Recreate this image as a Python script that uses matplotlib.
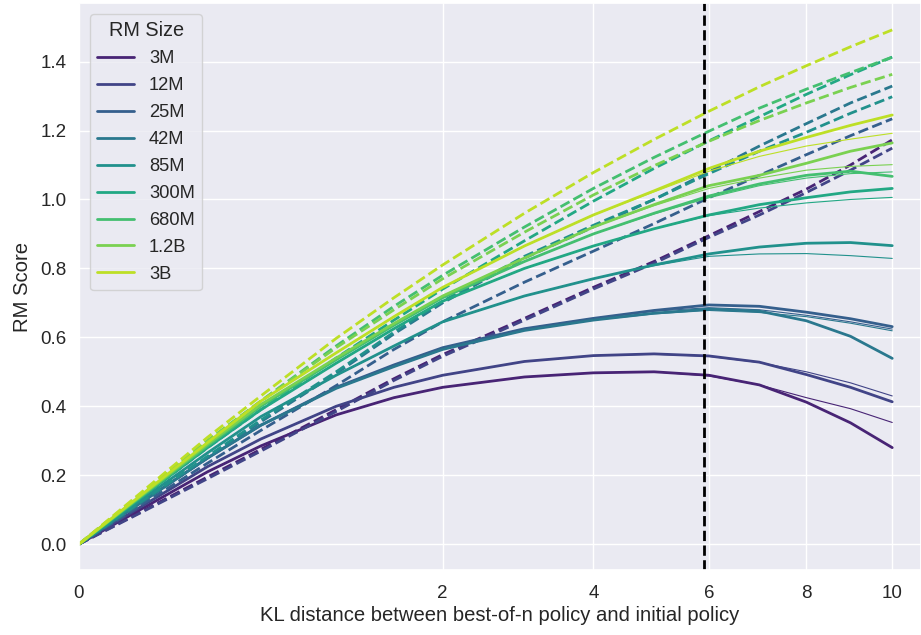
import numpy as np
import matplotlib
matplotlib.use("Agg")
import matplotlib.pyplot as plt
import seaborn as sns

# KL values at which scores were sampled
kl = [0, 0.25, 0.5, 1, 1.5, 2, 3, 4, 5, 6, 7, 8, 9, 10]

rm_sizes = ["3M", "12M", "25M", "42M", "85M", "300M", "680M", "1.2B", "3B"]

# proxy RM score (dashed)
proxy_3m = [0, 0.195, 0.275, 0.39, 0.48, 0.55, 0.655, 0.745, 0.82, 0.895, 0.965, 1.03, 1.10, 1.173]
proxy_12m = [0, 0.19, 0.27, 0.385, 0.475, 0.545, 0.65, 0.74, 0.815, 0.89, 0.955, 1.02, 1.085, 1.149]
proxy_25m = [0, 0.235, 0.33, 0.46, 0.565, 0.645, 0.76, 0.85, 0.93, 1.005, 1.07, 1.13, 1.185, 1.234]
proxy_42m = [0, 0.25, 0.355, 0.495, 0.61, 0.70, 0.83, 0.92, 1.0, 1.08, 1.155, 1.22, 1.28, 1.329]
proxy_85m = [0, 0.255, 0.36, 0.50, 0.615, 0.705, 0.835, 0.925, 1.0, 1.075, 1.14, 1.195, 1.25, 1.298]
proxy_300m = [0, 0.28, 0.39, 0.54, 0.65, 0.74, 0.88, 0.995, 1.09, 1.17, 1.24, 1.305, 1.362, 1.413]
proxy_680m = [0, 0.30, 0.415, 0.575, 0.69, 0.78, 0.92, 1.032, 1.122, 1.198, 1.265, 1.32, 1.368, 1.413]
proxy_1_2b = [0, 0.30, 0.415, 0.57, 0.68, 0.77, 0.905, 1.013, 1.098, 1.169, 1.229, 1.28, 1.325, 1.363]
proxy_3b = [0, 0.31, 0.43, 0.597, 0.715, 0.81, 0.96, 1.078, 1.174, 1.256, 1.327, 1.388, 1.443, 1.492]

# gold RM score (thick solid)
gold_3m = [0, 0.21, 0.285, 0.375, 0.425, 0.455, 0.485, 0.497, 0.50, 0.49, 0.462, 0.412, 0.352, 0.280]
gold_12m = [0, 0.225, 0.305, 0.40, 0.455, 0.49, 0.53, 0.547, 0.552, 0.546, 0.528, 0.492, 0.455, 0.413]
gold_25m = [0, 0.25, 0.345, 0.455, 0.52, 0.57, 0.625, 0.655, 0.678, 0.694, 0.69, 0.673, 0.654, 0.631]
gold_42m = [0, 0.25, 0.345, 0.452, 0.515, 0.565, 0.62, 0.65, 0.67, 0.682, 0.676, 0.648, 0.603, 0.539]
gold_85m = [0, 0.265, 0.37, 0.49, 0.575, 0.645, 0.72, 0.77, 0.81, 0.842, 0.862, 0.873, 0.875, 0.866]
gold_300m = [0, 0.28, 0.39, 0.525, 0.625, 0.705, 0.80, 0.865, 0.915, 0.955, 0.985, 1.005, 1.022, 1.032]
gold_680m = [0, 0.285, 0.40, 0.535, 0.635, 0.715, 0.82, 0.90, 0.96, 1.01, 1.045, 1.07, 1.082, 1.067]
gold_1_2b = [0, 0.29, 0.405, 0.54, 0.64, 0.72, 0.83, 0.92, 0.985, 1.04, 1.07, 1.105, 1.14, 1.164]
gold_3b = [0, 0.295, 0.415, 0.555, 0.66, 0.745, 0.865, 0.955, 1.025, 1.09, 1.14, 1.18, 1.215, 1.245]

# functional-form fit to gold score (thin solid)
fit_3m = [0, 0.21, 0.285, 0.375, 0.425, 0.455, 0.485, 0.497, 0.50, 0.488, 0.462, 0.425, 0.393, 0.353]
fit_12m = [0, 0.225, 0.305, 0.40, 0.455, 0.49, 0.53, 0.547, 0.551, 0.545, 0.527, 0.50, 0.468, 0.430]
fit_25m = [0, 0.25, 0.345, 0.455, 0.52, 0.57, 0.625, 0.655, 0.676, 0.686, 0.68, 0.664, 0.645, 0.624]
fit_42m = [0, 0.25, 0.345, 0.452, 0.515, 0.565, 0.62, 0.65, 0.668, 0.678, 0.672, 0.66, 0.641, 0.619]
fit_85m = [0, 0.265, 0.37, 0.49, 0.575, 0.645, 0.72, 0.77, 0.808, 0.835, 0.842, 0.843, 0.837, 0.829]
fit_300m = [0, 0.28, 0.39, 0.525, 0.625, 0.705, 0.80, 0.865, 0.915, 0.953, 0.975, 0.99, 1.0, 1.006]
fit_680m = [0, 0.285, 0.40, 0.535, 0.635, 0.715, 0.82, 0.90, 0.958, 1.005, 1.04, 1.062, 1.075, 1.08]
fit_1_2b = [0, 0.29, 0.405, 0.54, 0.64, 0.72, 0.83, 0.92, 0.982, 1.032, 1.062, 1.085, 1.096, 1.101]
fit_3b = [0, 0.295, 0.415, 0.555, 0.66, 0.745, 0.865, 0.955, 1.022, 1.082, 1.125, 1.155, 1.175, 1.192]

kl_cutoff = 5.9
xticks = [0, 2, 4, 6, 8, 10]
yticks = [0.0, 0.2, 0.4, 0.6, 0.8, 1.0, 1.2, 1.4]

proxy = [proxy_3m, proxy_12m, proxy_25m, proxy_42m, proxy_85m,
         proxy_300m, proxy_680m, proxy_1_2b, proxy_3b]
gold = [gold_3m, gold_12m, gold_25m, gold_42m, gold_85m,
        gold_300m, gold_680m, gold_1_2b, gold_3b]
fit = [fit_3m, fit_12m, fit_25m, fit_42m, fit_85m,
       fit_300m, fit_680m, fit_1_2b, fit_3b]

sns.set_theme(style="darkgrid")
plt.rcParams["font.family"] = ["Liberation Sans", "DejaVu Sans"]

colors = sns.color_palette("viridis", len(rm_sizes))

fig = plt.figure(figsize=(9.21, 6.35), dpi=100)
ax = fig.add_axes([79 / 921, 65 / 635, 842 / 921, 567 / 635])

for name, c, p, g, f in zip(rm_sizes, colors, proxy, gold, fit):
    ax.plot(kl, p, color=c, lw=2, ls="--")
    ax.plot(kl, g, color=c, lw=2, label=name)
    ax.plot(kl, f, color=c, lw=0.8)

ax.axvline(kl_cutoff, color="black", lw=2, ls="--")

# x axis on a square-root scale
ax.set_xscale("function", functions=(np.sqrt, np.square))
ax.set_xlim(0, 10.72)
ax.set_ylim(-0.075, 1.57)
ax.set_xticks(xticks)
ax.set_xticklabels([str(t) for t in xticks])
ax.set_yticks(yticks)
ax.set_yticklabels([f"{t:.1f}" for t in yticks])
ax.minorticks_off()
ax.tick_params(labelsize=13.5)
ax.tick_params(axis="x", pad=5)
ax.tick_params(axis="y", pad=3)

ax.set_xlabel("KL distance between best-of-n policy and initial policy",
              fontsize=14.6, labelpad=3)
ax.set_ylabel("RM Score", fontsize=14.6, labelpad=6)

ax.legend(title="RM Size", loc="upper left", fontsize=13.25, title_fontsize=14.3,
          handlelength=2.0, labelspacing=0.54, borderaxespad=0.6)

fig.savefig("out.png", dpi=100)
